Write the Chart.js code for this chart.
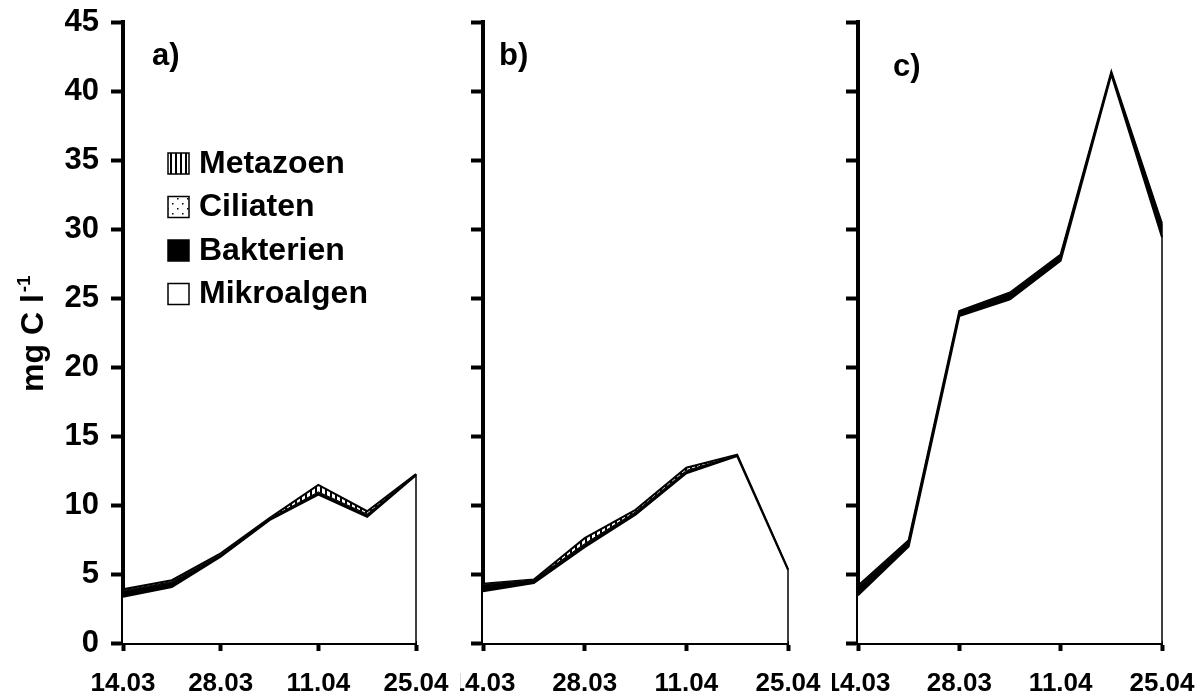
<!DOCTYPE html>
<html>
<head>
<meta charset="utf-8">
<script src="https://cdn.jsdelivr.net/npm/chart.js@4.4.1/dist/chart.umd.min.js"></script>
<style>
  body { margin: 0; background: #fff; }
  #wrap { position: relative; width: 1203px; height: 697px; overflow: hidden; }
  canvas { position: absolute; top: 0; }
</style>
</head>
<body>
<div id="wrap">
  <canvas id="panelA" width="455" height="697" style="left:0px"></canvas>
  <canvas id="panelB" width="372" height="697" style="left:460px"></canvas>
  <canvas id="panelC" width="371" height="697" style="left:832px"></canvas>
</div>
<script>
// weekly sampling dates
var weeks = ['14.03', '21.03', '28.03', '04.04', '11.04', '18.04', '25.04'];
var seriesNames = ['Mikroalgen', 'Bakterien', 'Ciliaten', 'Metazoen'];

// a) carbon per group, mg C/l
var mikroalgenA = [3.35, 4.05, 6.25, 8.9, 10.75, 9.15, 12.15];
var bakterienA  = [0.4, 0.35, 0.15, 0.1, 0.15, 0.15, 0.05];
var ciliatenA   = [0.05, 0.05, 0.05, 0.02, 0.05, 0.05, 0.02];
var metazoenA   = [0.1, 0.1, 0.05, 0.03, 0.5, 0.2, 0.03];

// b)
var mikroalgenB = [3.75, 4.35, 6.95, 9.3, 12.3, 13.55, 5.3];
var bakterienB  = [0.45, 0.2, 0.2, 0.15, 0.15, 0.05, 0.03];
var ciliatenB   = [0.05, 0.03, 0.05, 0.05, 0.05, 0.02, 0.01];
var metazoenB   = [0.05, 0.02, 0.4, 0.15, 0.2, 0.03, 0.01];

// c)
var mikroalgenC = [3.45, 7.0, 23.7, 24.9, 27.7, 41.2, 29.4];
var bakterienC  = [0.6, 0.4, 0.3, 0.45, 0.4, 0.15, 0.9];
var ciliatenC   = [0.05, 0.03, 0.03, 0.03, 0.03, 0.03, 0.05];
var metazoenC   = [0.05, 0.02, 0.02, 0.02, 0.02, 0.02, 0.05];

var yMax = 45;
var yStep = 5;

Chart.defaults.font.family = "'Liberation Sans', Arial, sans-serif";
Chart.defaults.font.weight = 'bold';
Chart.defaults.color = '#000';

function makePattern(kind) {
    var c = document.createElement('canvas');
    var ctx = c.getContext('2d');
    if (kind == 'stripes') {
        c.width = 5; c.height = 5;
        ctx.fillStyle = '#fff';
        ctx.fillRect(0, 0, 5, 5);
        ctx.fillStyle = '#000';
        ctx.fillRect(0, 0, 2, 5);
    } else {
        c.width = 10; c.height = 10;
        ctx.fillStyle = '#fff';
        ctx.fillRect(0, 0, 10, 10);
        ctx.fillStyle = '#000';
        ctx.fillRect(2, 3, 1.5, 1.5);
        ctx.fillRect(7, 8, 1.5, 1.5);
    }
    return ctx.createPattern(c, 'repeat');
}

var fills = ['#ffffff', '#000000', makePattern('dots'), makePattern('stripes')];

// closes the area at the last date with a vertical edge
var edgePlugin = {
    id: 'edge',
    afterDatasetsDraw: function(chart) {
        var n = chart.data.datasets.length;
        var top = chart.getDatasetMeta(n - 1).data;
        var last = top[top.length - 1];
        var ctx = chart.ctx;
        ctx.save();
        ctx.strokeStyle = '#000';
        ctx.lineWidth = 1.5;
        ctx.beginPath();
        ctx.moveTo(last.x, last.y);
        ctx.lineTo(last.x, chart.scales.y.getPixelForValue(0));
        ctx.stroke();
        ctx.restore();
    }
};

var panelLabelPlugin = {
    id: 'panelLabel',
    afterDraw: function(chart, args, opts) {
        var ctx = chart.ctx;
        ctx.save();
        ctx.font = 'bold 31px ' + Chart.defaults.font.family;
        ctx.fillStyle = '#000';
        ctx.textBaseline = 'alphabetic';
        ctx.fillText(opts.text, chart.chartArea.left + opts.dx, opts.baseline);
        ctx.restore();
    }
};

var legendPlugin = {
    id: 'boxLegend',
    afterDraw: function(chart, args, opts) {
        if (!opts.show) return;
        var ctx = chart.ctx;
        var ds = chart.data.datasets.slice().reverse();
        ctx.save();
        ctx.font = 'bold 32px ' + Chart.defaults.font.family;
        ctx.textBaseline = 'middle';
        for (var i = 0; i < ds.length; i++) {
            var cy = opts.y + i * opts.gap;
            ctx.fillStyle = ds[i].backgroundColor;
            ctx.fillRect(opts.x, cy - 10, 21, 21);
            ctx.strokeStyle = '#000';
            ctx.lineWidth = 1.5;
            ctx.strokeRect(opts.x, cy - 10, 21, 21);
            ctx.fillStyle = '#000';
            ctx.fillText(ds[i].label, opts.x + 31, cy + 1);
        }
        ctx.restore();
    }
};

var yTitlePlugin = {
    id: 'yTitle',
    afterDraw: function(chart, args, opts) {
        if (!opts.show) return;
        var ctx = chart.ctx;
        var fam = Chart.defaults.font.family;
        ctx.save();
        ctx.translate(opts.x, opts.y);
        ctx.rotate(-Math.PI / 2);
        ctx.fillStyle = '#000';
        ctx.textBaseline = 'alphabetic';
        ctx.font = 'bold 32px ' + fam;
        ctx.fillText('mg C l', 0, 0);
        var w = ctx.measureText('mg C l').width;
        ctx.font = 'bold 19px ' + fam;
        ctx.fillText('-1', w + 2, -13);
        ctx.restore();
    }
};

function makePanel(id, values, cfg) {
    var datasets = [];
    for (var i = 0; i < values.length; i++) {
        datasets.push({
            label: seriesNames[i],
            data: values[i],
            backgroundColor: fills[i],
            borderColor: '#000',
            borderWidth: (i == 0 || i == values.length - 1) ? 2 : 1,
            fill: i == 0 ? 'origin' : '-1',
            pointRadius: 0,
            tension: 0
        });
    }

    new Chart(document.getElementById(id), {
        type: 'line',
        data: { labels: weeks, datasets: datasets },
        plugins: [edgePlugin, panelLabelPlugin, legendPlugin, yTitlePlugin],
        options: {
            responsive: false,
            animation: false,
            layout: { padding: { top: 22, right: cfg.padRight, bottom: 0, left: 0 } },
            plugins: {
                legend: { display: false },
                tooltip: { enabled: false },
                panelLabel: { text: cfg.label, dx: cfg.labelDx, baseline: cfg.labelBaseline },
                boxLegend: { show: cfg.legend, x: 168, y: 163, gap: 43.5 },
                yTitle: { show: cfg.title, x: 43, y: 392 }
            },
            scales: {
                x: {
                    ticks: {
                        autoSkip: false,
                        maxRotation: 0,
                        padding: 17,
                        font: { size: 26, weight: 'bold' },
                        callback: function(v, i) { return i % 2 ? '' : this.getLabelForValue(v); }
                    },
                    grid: {
                        drawOnChartArea: false,
                        tickLength: 8,
                        tickWidth: 4,
                        tickColor: function(ctx) { return ctx.index % 2 ? 'rgba(0,0,0,0)' : '#000'; }
                    },
                    border: { color: '#000', width: 4 },
                    afterFit: function(scale) {
                        scale.height = 54;
                        scale.paddingLeft = 0;
                        scale.paddingRight = 0;
                    }
                },
                y: {
                    stacked: true,
                    min: 0,
                    max: yMax,
                    ticks: {
                        stepSize: yStep,
                        padding: 12,
                        font: { size: 31, weight: 'bold' },
                        callback: function(v) { return cfg.yLabels ? v : ''; }
                    },
                    grid: {
                        drawOnChartArea: false,
                        tickLength: 12,
                        tickWidth: 4,
                        tickColor: '#000'
                    },
                    border: { color: '#000', width: 4 },
                    afterFit: function(scale) {
                        scale.width = cfg.yWidth;
                        scale.paddingTop = 0;
                        scale.paddingBottom = 0;
                    }
                }
            }
        }
    });
}

makePanel('panelA', [mikroalgenA, bakterienA, ciliatenA, metazoenA], {
    yWidth: 123, padRight: 39, yLabels: true, legend: true, title: true,
    label: 'a)', labelDx: 29, labelBaseline: 65
});
makePanel('panelB', [mikroalgenB, bakterienB, ciliatenB, metazoenB], {
    yWidth: 23, padRight: 44, yLabels: false, legend: false, title: false,
    label: 'b)', labelDx: 16, labelBaseline: 65
});
makePanel('panelC', [mikroalgenC, bakterienC, ciliatenC, metazoenC], {
    yWidth: 26, padRight: 41, yLabels: false, legend: false, title: false,
    label: 'c)', labelDx: 35, labelBaseline: 76
});
</script>
</body>
</html>
